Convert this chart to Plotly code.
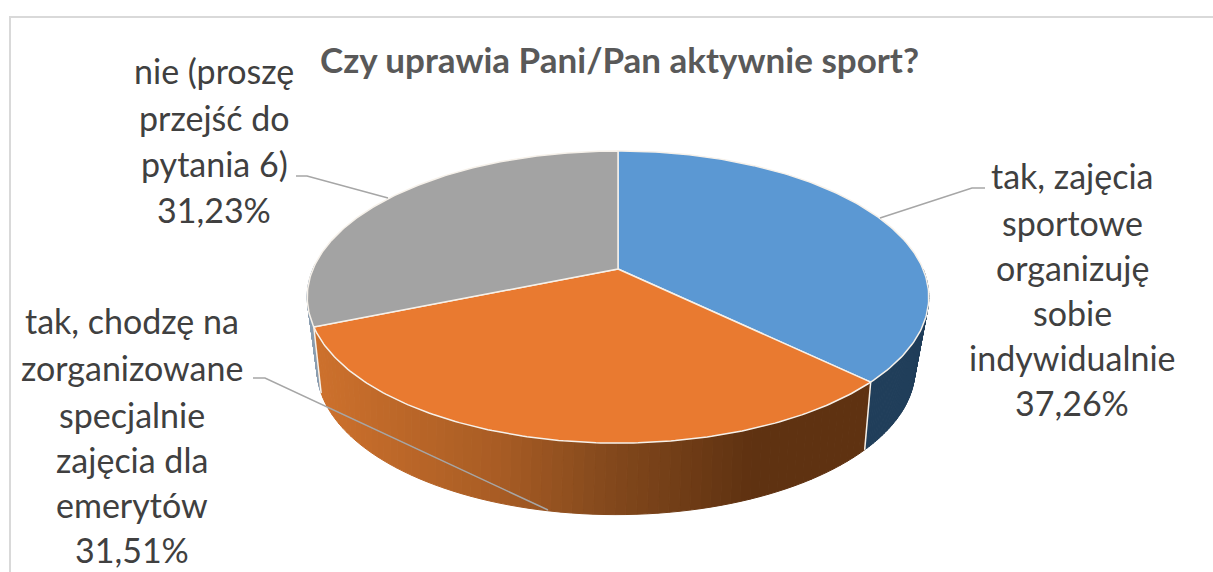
"""3D-looking pie: Czy uprawia Pani/Pan aktywnie sport?"""

import numpy as np
import plotly.graph_objects as go

TITLE = "Czy uprawia Pani/Pan aktywnie sport?"
SHARES = [37.26, 31.51, 31.23]
LABELS = [
    ["tak, zajęcia", "sportowe", "organizuję", "sobie", "indywidualnie"],
    ["tak, chodzę na", "zorganizowane", "specjalnie", "zajęcia dla", "emerytów"],
    ["nie (proszę", "przejść do", "pytania 6)"],
]
TOP_COLORS = ["#5b98d3", "#e97a30", "#a3a3a3"]
SIDE_STOPS = [
    [(0, "#203e5a"), (1213, "#203e5a")],
    [(320, "#cc702c"), (500, "#a85c24"), (600, "#864a1d"), (750, "#5f3211"), (870, "#5f3211")],
    [(0, "#8a9db0"), (1213, "#8a9db0")],
]

FONT = "Lato, Carlito, sans-serif"
TEXT = "#404040"
RIM = "#f6f1ea"


def project(deg, cx, cy, rx, ry, k):
    # angle runs clockwise from 12 o'clock, k is the perspective squeeze
    t = np.radians(deg)
    u, v = np.sin(t), np.cos(t)
    return cx + rx * u / (1 + k * v), cy - ry * v / (1 + k * v)


def top(deg):
    return project(deg, 618, 269, 305, 140.7, 0.192)


def bottom(deg):
    return project(deg, 616, 335.4, 291, 138, 0.23)


def blend(stops, x):
    xs = [s[0] for s in stops]
    rgb = [[int(s[1][i:i + 2], 16) for s in stops] for i in (1, 3, 5)]
    return "rgb({:.0f},{:.0f},{:.0f})".format(*[np.interp(x, xs, c) for c in rgb])


def poly(x, y, fill, line=None, width=1):
    return go.Scatter(
        x=list(x), y=list(y), mode="lines", fill="toself", fillcolor=fill,
        line=dict(color=line or fill, width=width), hoverinfo="skip", showlegend=False,
    )


edges = np.concatenate([[0], np.cumsum(SHARES) / sum(SHARES) * 360])
fig = go.Figure()

# sides first, the tops go over them
for i in (2, 0, 1):
    a0, a1 = edges[i], edges[i + 1]
    if i == 2:
        a1 = min(a1, 272)
    if i == 0:
        a0 = max(a0, 90)
    steps = np.linspace(a0, a1, 70)
    for s0, s1 in zip(steps[:-1], steps[1:]):
        (xa, ya), (xb, yb) = top(s0), top(s1)
        (xc, yc), (xd, yd) = bottom(s1), bottom(s0)
        col = blend(SIDE_STOPS[i], (xa + xb) / 2)
        fig.add_trace(poly([xa, xb, xc, xd, xa], [ya, yb, yc, yd, ya], col))

# white seam on the front edges of the side
for a in edges[1:3]:
    (xa, ya), (xb, yb) = top(a), bottom(a)
    fig.add_trace(go.Scatter(x=[xa, xb], y=[ya, yb], mode="lines",
                             line=dict(color=RIM, width=1.5), hoverinfo="skip", showlegend=False))

for i, color in enumerate(TOP_COLORS):
    xs, ys = top(np.linspace(edges[i], edges[i + 1], 160))
    cx, cy = top(0)[0], 269
    fig.add_trace(poly(
        np.concatenate([[cx], xs, [cx]]), np.concatenate([[cy], ys, [cy]]),
        color, line=RIM, width=1.5,
    ))

# leader lines
LEADERS = [
    ([985, 972, 880], [188, 188, 218]),
    ([253, 265, 548], [378, 378, 510]),
    ([296, 307, 388], [176, 176, 198]),
]
for lx, ly in LEADERS:
    fig.add_trace(go.Scatter(x=lx, y=ly, mode="lines", line=dict(color="#a6a6a6", width=1.5),
                             hoverinfo="skip", showlegend=False))

# labels, line by line because the line spacing is wider than plotly's
LABEL_X = [1072, 132, 214]
LABEL_Y = [
    [175, 222, 267, 312, 357, 402],
    [320, 367, 414, 459, 504, 549],
    [70, 117, 163, 209],
]
annotations = []
for i, lines in enumerate(LABELS):
    pct = f"{SHARES[i]:.2f}%".replace(".", ",")
    for text, y in zip(lines + [pct], LABEL_Y[i]):
        annotations.append(dict(x=LABEL_X[i], y=y, text=text, showarrow=False,
                                xanchor="center", yanchor="middle",
                                font=dict(family=FONT, size=34, color=TEXT)))
annotations.append(dict(x=619, y=59, text=f"<b>{TITLE}</b>", showarrow=False,
                        xanchor="center", yanchor="middle",
                        font=dict(family=FONT, size=35, color="#595959")))

fig.update_layout(
    width=1213, height=572,
    margin=dict(l=0, r=0, t=0, b=0),
    paper_bgcolor="white", plot_bgcolor="white",
    showlegend=False,
    xaxis=dict(range=[0, 1213], visible=False, fixedrange=True),
    yaxis=dict(range=[572, 0], visible=False, fixedrange=True),
    annotations=annotations,
    shapes=[
        dict(type="line", x0=9, x1=1213, y0=17, y1=17, line=dict(color="#d9d9d9", width=2)),
        dict(type="line", x0=10, x1=10, y0=16, y1=572, line=dict(color="#d9d9d9", width=2)),
    ],
)

fig.write_html(
    "out.html",
    config=dict(displayModeBar=False),
    post_script="document.body.style.margin='0';document.body.style.overflow='hidden';",
)
